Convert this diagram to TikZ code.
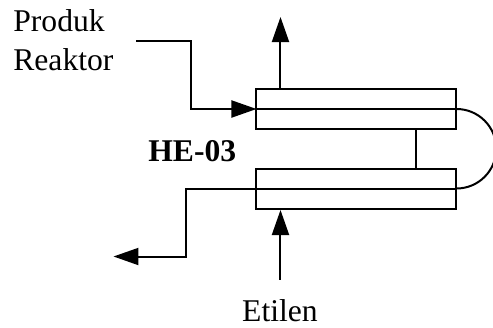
\documentclass[tikz,border=0pt]{standalone}
\usepackage{fontspec}
\setmainfont{Liberation Serif}
\usetikzlibrary{arrows.meta}
\tikzset{
    hebox/.style={draw, line width=0.04cm, minimum width=4cm, minimum height=0.8cm, inner sep=0pt, outer sep=0pt},
    pipe/.style={line width=0.04cm},
    flow/.style={pipe, -{Triangle[length=0.5cm, width=0.34cm]}},
    label/.style={anchor=base west, inner sep=0pt, font=\fontsize{18}{21}\selectfont}
}
\begin{document}
\begin{tikzpicture}
    \useasboundingbox (0,0) rectangle (9.86,6.54);
    \node[hebox] (upper) at (7.13,4.36) {};
    \node[hebox] (lower) at (7.13,2.77) {};
    \node[label] (produk) at (0.26,5.92) {Produk};
    \node[label] (reaktor) at (0.26,5.14) {Reaktor};
    \node[label, font=\fontsize{18}{21}\selectfont\bfseries] (hename) at (2.96,3.32) {HE-03};
    \node[label, anchor=base] (etilen) at (5.6,0.12) {Etilen};
    \coordinate (feed) at (2.73,5.73);
    \coordinate (topout) at (5.61,6.2);
    \coordinate (botout) at (2.27,1.41);
    \draw[pipe] (upper.west) -- (upper.east);
    \draw[pipe] (lower.west) -- (lower.east);
    \draw[pipe] (8.33,3.96) -- (8.33,3.17);
    \draw[pipe] (upper.east) arc[start angle=90, end angle=-90, radius=0.795];
    \draw[flow] (feed) -| (3.82,4.36) -- (upper.west);
    \draw[flow] (upper.north -| topout) -- (topout);
    \draw[flow] (lower.west) -| (3.73,1.41) -- (botout);
    \draw[flow] ([yshift=0.38cm]etilen.north -| topout) -- ([yshift=-0.03cm]lower.south -| topout);
\end{tikzpicture}
\end{document}
